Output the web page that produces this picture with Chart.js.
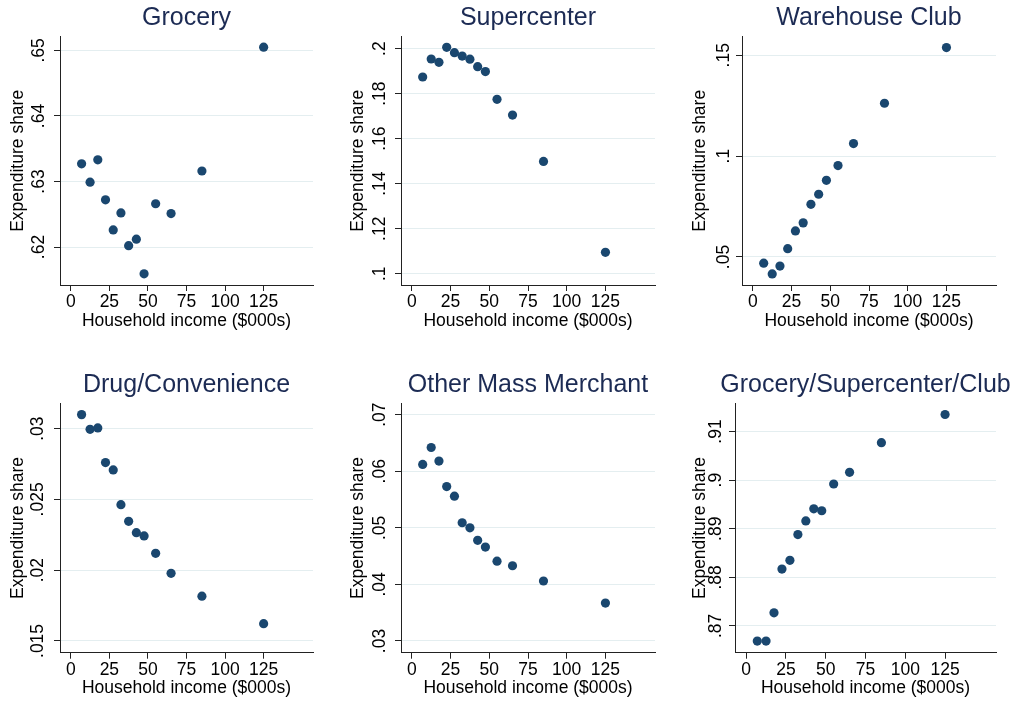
<!DOCTYPE html>
<html>
<head>
<meta charset="utf-8">
<script src="https://cdn.jsdelivr.net/npm/chart.js@4.4.1/dist/chart.umd.min.js"></script>
<style>
  html, body { margin: 0; padding: 0; background: #fff; }
  #grid { position: relative; width: 1013px; height: 702px; overflow: hidden; }
  #grid canvas { position: absolute; }
</style>
</head>
<body>
<div id="grid"></div>
<script>
// Household income bins ($000s), shared by every panel
const income = [7, 12.5, 17.5, 22.5, 27.5, 32.5, 37.5, 42.5, 47.5, 55, 65, 85, 125]

// Expenditure shares
const grocery     = [0.6327, 0.6299, 0.6333, 0.6272, 0.6226, 0.6252, 0.6202, 0.6212, 0.6159, 0.6266, 0.6251, 0.6316, 0.6505]
const supercenter = [0.1874, 0.1954, 0.1939, 0.2006, 0.1982, 0.1967, 0.1953, 0.1920, 0.1898, 0.1775, 0.1705, 0.1499, 0.1095]
const warehouse   = [0.0469, 0.0416, 0.0455, 0.0541, 0.0629, 0.0669, 0.0761, 0.0811, 0.0880, 0.0953, 0.1062, 0.1262, 0.1538]
const drugConv    = [0.03099, 0.02995, 0.03005, 0.02760, 0.02708, 0.02463, 0.02345, 0.02265, 0.02242, 0.02119, 0.01978, 0.01816, 0.01622]
const otherMass   = [0.0612, 0.0642, 0.0618, 0.0573, 0.0556, 0.0509, 0.0500, 0.0478, 0.0466, 0.0441, 0.0433, 0.0406, 0.0367]
const combined    = [0.8669, 0.8669, 0.8727, 0.8817, 0.8835, 0.8888, 0.8916, 0.8941, 0.8937, 0.8992, 0.9016, 0.9077, 0.9135]

// Tick values and labels
const xTicks = [0, 25, 50, 75, 100, 125]
const groceryTicks = [0.62, 0.63, 0.64, 0.65]
const groceryLabels = ['.62', '.63', '.64', '.65']
const superTicks = [0.1, 0.12, 0.14, 0.16, 0.18, 0.2]
const superLabels = ['.1', '.12', '.14', '.16', '.18', '.2']
const warehouseTicks = [0.05, 0.1, 0.15]
const warehouseLabels = ['.05', '.1', '.15']
const drugTicks = [0.015, 0.02, 0.025, 0.03]
const drugLabels = ['.015', '.02', '.025', '.03']
const otherTicks = [0.03, 0.04, 0.05, 0.06, 0.07]
const otherLabels = ['.03', '.04', '.05', '.06', '.07']
const combinedTicks = [0.87, 0.88, 0.89, 0.9, 0.91]
const combinedLabels = ['.87', '.88', '.89', '.9', '.91']

const FONT = '"Liberation Sans", Arial, Helvetica, sans-serif'
const MARKER = '#1a476f'
const TITLE_COLOR = '#1c2b54'

// canvas box [left, top, width, height], plot area [left, right, top, bottom] inside it
const panels = [
  { title: 'Grocery', values: grocery, ticks: groceryTicks, labels: groceryLabels, yMin: 0.6142, yMax: 0.6521,
    box: [0, 0, 337, 351], area: [60, 313, 36.7, 285], yTitleX: 18.5, yTickX: 39.5, titleY: 18.3, xTitleY: 321.5 },
  { title: 'Supercenter', values: supercenter, ticks: superTicks, labels: superLabels, yMin: 0.0950, yMax: 0.2053,
    box: [337, 0, 336, 351], area: [64, 318, 36.7, 285], yTitleX: 21.5, yTickX: 43.3, titleY: 18.3, xTitleY: 321.5 },
  { title: 'Warehouse Club', values: warehouse, ticks: warehouseTicks, labels: warehouseLabels, yMin: 0.0361, yMax: 0.1592,
    box: [673, 0, 340, 351], area: [69, 323, 36.7, 285], yTitleX: 27, yTickX: 50.7, titleY: 18.3, xTitleY: 321.5 },
  { title: 'Drug/Convenience', values: drugConv, ticks: drugTicks, labels: drugLabels, yMin: 0.01417, yMax: 0.03179,
    box: [0, 351, 337, 351], area: [60, 313, 52.3, 301.7], yTitleX: 18.5, yTickX: 38.5, titleY: 34, xTitleY: 337.3 },
  { title: 'Other Mass Merchant', values: otherMass, ticks: otherTicks, labels: otherLabels, yMin: 0.02793, yMax: 0.07201,
    box: [337, 351, 336, 351], area: [64, 318, 52.3, 301.7], yTitleX: 21.5, yTickX: 43, titleY: 34, xTitleY: 337.3 },
  { title: 'Grocery/Supercenter/Club', values: combined, ticks: combinedTicks, labels: combinedLabels, yMin: 0.8645, yMax: 0.9158,
    box: [673, 351, 340, 351], area: [62, 323, 52.3, 301.7], yTitleX: 27, yTickX: 43.3, titleY: 34, xTitleY: 337.3 }
]

// Draws the panel title and the vertical y tick labels (Stata style)
function panelText(p) {
  return {
    id: 'panelText',
    afterDraw(chart) {
      const { ctx, chartArea } = chart
      const yScale = chart.scales.y
      ctx.save()
      ctx.textAlign = 'center'
      ctx.textBaseline = 'middle'
      ctx.fillStyle = TITLE_COLOR
      ctx.font = `25px ${FONT}`
      ctx.fillText(p.title, (chartArea.left + chartArea.right) / 2, p.titleY)

      ctx.fillStyle = '#000'
      ctx.font = `17.5px ${FONT}`
      p.ticks.forEach((v, i) => {
        ctx.save()
        ctx.translate(p.yTickX, yScale.getPixelForValue(v))
        ctx.rotate(-Math.PI / 2)
        ctx.fillText(p.labels[i], 0, 0)
        ctx.restore()
      })
      ctx.restore()
    }
  }
}

const grid = document.getElementById('grid')

panels.forEach(p => {
  const [left, top, width, height] = p.box
  const [aLeft, aRight, aTop, aBottom] = p.area
  const canvas = document.createElement('canvas')
  canvas.width = width
  canvas.height = height
  canvas.style.left = left + 'px'
  canvas.style.top = top + 'px'
  canvas.style.width = width + 'px'
  canvas.style.height = height + 'px'
  grid.appendChild(canvas)

  new Chart(canvas.getContext('2d'), {
    type: 'scatter',
    data: {
      datasets: [{
        data: income.map((x, i) => ({ x: x, y: p.values[i] })),
        backgroundColor: MARKER,
        borderColor: MARKER,
        borderWidth: 0,
        pointRadius: 4.6,
        pointHoverRadius: 4.6
      }]
    },
    options: {
      responsive: false,
      animation: false,
      events: [],
      clip: false,
      layout: {
        padding: { left: 0, top: aTop, right: width - aRight, bottom: 0 }
      },
      plugins: {
        legend: { display: false },
        tooltip: { enabled: false },
        title: { display: false }
      },
      scales: {
        x: {
          type: 'linear',
          min: -7,
          max: 157,
          afterBuildTicks: s => { s.ticks = xTicks.map(v => ({ value: v })) },
          afterFit: s => { s.height = height - aBottom },
          border: { display: true, color: '#222', width: 1 },
          grid: { drawOnChartArea: false, drawTicks: true, tickLength: 6, tickColor: '#222', tickWidth: 1 },
          ticks: {
            autoSkip: false, maxRotation: 0, padding: 1, color: '#000',
            font: { family: FONT, size: 17.5 }
          },
          title: {
            display: true,
            text: 'Household income ($000s)',
            color: '#000',
            font: { family: FONT, size: 17.5 },
            padding: { top: 0, bottom: height - p.xTitleY - 10.5 }
          }
        },
        y: {
          type: 'linear',
          min: p.yMin,
          max: p.yMax,
          afterBuildTicks: s => { s.ticks = p.ticks.map(v => ({ value: v })) },
          afterFit: s => { s.width = aLeft },
          border: { display: true, color: '#222', width: 1 },
          grid: { color: '#e4eef0', lineWidth: 1, drawTicks: true, tickLength: 6, tickColor: '#222', tickWidth: 1 },
          ticks: { display: false },
          title: {
            display: true,
            text: 'Expenditure share',
            color: '#000',
            font: { family: FONT, size: 17.5 },
            padding: { top: p.yTitleX - 10.5, bottom: 0 }
          }
        }
      }
    },
    plugins: [panelText(p)]
  })
})
</script>
</body>
</html>
